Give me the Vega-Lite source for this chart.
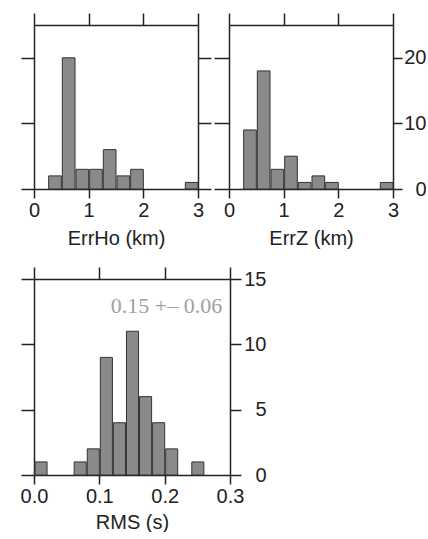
{
  "$schema": "https://vega.github.io/schema/vega-lite/v6.json",
  "padding": {"left": 20, "top": 12, "right": 0, "bottom": 0},
  "bounds": "flush",
  "spacing": 254,
  "background": "white",
  "datasets": {
    "errho": [
      {"start": 0.25, "end": 0.5, "count": 2},
      {"start": 0.5, "end": 0.75, "count": 20},
      {"start": 0.75, "end": 1.0, "count": 3},
      {"start": 1.0, "end": 1.25, "count": 3},
      {"start": 1.25, "end": 1.5, "count": 6},
      {"start": 1.5, "end": 1.75, "count": 2},
      {"start": 1.75, "end": 2.0, "count": 3},
      {"start": 2.75, "end": 3.0, "count": 1}
    ],
    "errz": [
      {"start": 0.25, "end": 0.5, "count": 9},
      {"start": 0.5, "end": 0.75, "count": 18},
      {"start": 0.75, "end": 1.0, "count": 3},
      {"start": 1.0, "end": 1.25, "count": 5},
      {"start": 1.25, "end": 1.5, "count": 1},
      {"start": 1.5, "end": 1.75, "count": 2},
      {"start": 1.75, "end": 2.0, "count": 1},
      {"start": 2.75, "end": 3.0, "count": 1}
    ],
    "rms": [
      {"start": 0.0, "end": 0.02, "count": 1},
      {"start": 0.06, "end": 0.08, "count": 1},
      {"start": 0.08, "end": 0.1, "count": 2},
      {"start": 0.1, "end": 0.12, "count": 9},
      {"start": 0.12, "end": 0.14, "count": 4},
      {"start": 0.14, "end": 0.16, "count": 11},
      {"start": 0.16, "end": 0.18, "count": 6},
      {"start": 0.18, "end": 0.2, "count": 4},
      {"start": 0.2, "end": 0.22, "count": 2},
      {"start": 0.24, "end": 0.26, "count": 1}
    ],
    "note": [
      {"x": 0.288, "y": 12.9, "label": "0.15 +– 0.06"}
    ]
  },
  "vconcat": [
    {
      "bounds": "flush",
      "spacing": 31,
      "hconcat": [
        {
          "width": 164, "height": 164,
          "data": {"name": "errho"},
          "layer": [
            {
              "mark": {"type": "bar", "fill": "#8a8a8a", "stroke": "#333333", "strokeWidth": 1},
              "encoding": {
                "x": {"field": "start", "type": "quantitative", "bin": "binned", "scale": {"domain": [0, 3], "nice": false, "zero": false},
                  "axis": {"orient": "bottom", "values": [0, 1, 2, 3], "tickSize": 9, "labelPadding": 2, "title": "ErrHo (km)", "titlePadding": 8}},
                "x2": {"field": "end"},
                "y": {"field": "count", "type": "quantitative", "scale": {"domain": [0, 25], "nice": false},
                  "axis": {"orient": "left", "values": [0, 10, 20], "tickSize": 13, "labels": false, "title": null}}
              }
            },
            {
              "mark": {"type": "bar", "fillOpacity": 0, "strokeOpacity": 0},
              "encoding": {
                "x": {"field": "start", "type": "quantitative", "bin": "binned",
                  "axis": {"orient": "top", "values": [0, 1, 2, 3], "tickSize": 12, "labels": false, "title": null}},
                "x2": {"field": "end"},
                "y": {"field": "count", "type": "quantitative",
                  "axis": {"orient": "right", "values": [0, 10, 20], "tickSize": 13, "labels": false, "title": null}}
              }
            }
          ],
          "resolve": {"axis": {"x": "independent", "y": "independent"}}
        },
        {
          "width": 164, "height": 164,
          "data": {"name": "errz"},
          "layer": [
            {
              "mark": {"type": "bar", "fill": "#8a8a8a", "stroke": "#333333", "strokeWidth": 1},
              "encoding": {
                "x": {"field": "start", "type": "quantitative", "bin": "binned", "scale": {"domain": [0, 3], "nice": false, "zero": false},
                  "axis": {"orient": "bottom", "values": [0, 1, 2, 3], "tickSize": 9, "labelPadding": 2, "title": "ErrZ (km)", "titlePadding": 8}},
                "x2": {"field": "end"},
                "y": {"field": "count", "type": "quantitative", "scale": {"domain": [0, 25], "nice": false},
                  "axis": {"orient": "left", "values": [0, 10, 20], "tickSize": 15, "labels": false, "title": null}}
              }
            },
            {
              "mark": {"type": "bar", "fillOpacity": 0, "strokeOpacity": 0},
              "encoding": {
                "x": {"field": "start", "type": "quantitative", "bin": "binned",
                  "axis": {"orient": "top", "values": [0, 1, 2, 3], "tickSize": 12, "labels": false, "title": null}},
                "x2": {"field": "end"},
                "y": {"field": "count", "type": "quantitative",
                  "axis": {"orient": "right", "values": [0, 10, 20], "tickSize": 9, "labelAlign": "right", "labelBaseline": "middle", "labelPadding": 24, "title": null}}
              }
            }
          ],
          "resolve": {"axis": {"x": "independent", "y": "independent"}}
        }
      ]
    },
    {
      "width": 196, "height": 196,
      "layer": [
        {
          "data": {"name": "rms"},
          "mark": {"type": "bar", "fill": "#8a8a8a", "stroke": "#333333", "strokeWidth": 1},
          "encoding": {
            "x": {"field": "start", "type": "quantitative", "bin": "binned", "scale": {"domain": [0, 0.3], "nice": false, "zero": false},
              "axis": {"orient": "bottom", "values": [0, 0.1, 0.2, 0.3], "format": ".1f", "tickSize": 9, "labelPadding": 2, "title": "RMS (s)", "titlePadding": 6}},
            "x2": {"field": "end"},
            "y": {"field": "count", "type": "quantitative", "scale": {"domain": [0, 15], "nice": false},
              "axis": {"orient": "left", "values": [0, 5, 10, 15], "tickSize": 13, "labels": false, "title": null}}
          }
        },
        {
          "data": {"name": "rms"},
          "mark": {"type": "bar", "fillOpacity": 0, "strokeOpacity": 0},
          "encoding": {
            "x": {"field": "start", "type": "quantitative", "bin": "binned",
              "axis": {"orient": "top", "values": [0, 0.1, 0.2, 0.3], "tickSize": 12, "labels": false, "title": null}},
            "x2": {"field": "end"},
            "y": {"field": "count", "type": "quantitative",
              "axis": {"orient": "right", "values": [0, 5, 10, 15], "tickSize": 11, "labelAlign": "right", "labelBaseline": "middle", "labelPadding": 25, "title": null}}
          }
        },
        {
          "data": {"name": "note"},
          "mark": {"type": "text", "font": "Liberation Serif", "fontSize": 22, "color": "#a0a0a0", "align": "right", "baseline": "middle"},
          "encoding": {
            "x": {"field": "x", "type": "quantitative", "axis": null},
            "y": {"field": "y", "type": "quantitative", "axis": null},
            "text": {"field": "label"}
          }
        }
      ],
      "resolve": {"axis": {"x": "independent", "y": "independent"}}
    }
  ],
  "config": {
    "view": {"stroke": null},
    "axis": {
      "domainColor": "#222222", "domainWidth": 1.5,
      "tickColor": "#222222", "tickWidth": 1.5,
      "grid": false,
      "labelFont": "Liberation Sans", "labelFontSize": 20, "labelColor": "#222222",
      "labelFlush": false, "labelOverlap": false,
      "titleFont": "Liberation Sans", "titleFontSize": 20, "titleFontWeight": "normal", "titleColor": "#222222"
    }
  }
}
